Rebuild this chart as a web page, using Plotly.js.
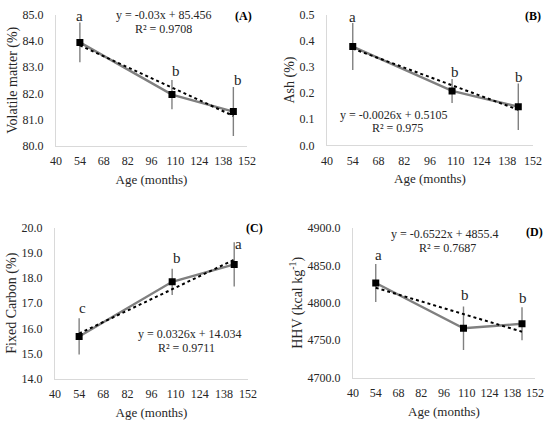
<!DOCTYPE html>
<html><head><meta charset="utf-8">
<script src="https://cdn.plot.ly/plotly-3.0.1.min.js"></script>
<style>html,body{margin:0;padding:0;background:#fff}</style>
</head><body>
<div id="chart" style="width:550px;height:424px"></div>
<script>
// Data
const ages = [54, 108, 144];
const xTicks = [40, 54, 68, 82, 96, 110, 124, 138, 152];

const volatile = [83.95, 81.95, 81.3];
const volatileErr = [0.76, 0.56, 0.94];
const ash = [0.378, 0.208, 0.148];
const ashErr = [0.09, 0.046, 0.089];
const fixedCarbon = [15.68, 17.85, 18.54];
const fixedCarbonErr = [0.72, 0.52, 0.88];
const hhv = [4826.5, 4766, 4772];
const hhvErr = [25.5, 29, 22];

const slopes = [-0.03, -0.0026, 0.0326, -0.6522];
const intercepts = [85.456, 0.5105, 14.034, 4855.4];
const eqTexts = ["y = -0.03x + 85.456", "y = -0.0026x + 0.5105", "y = 0.0326x + 14.034", "y = -0.6522x + 4855.4"];
const r2Texts = ["R² = 0.9708", "R² = 0.975", "R² = 0.9711", "R² = 0.7687"];
const panelLabels = ["(A)", "(B)", "(C)", "(D)"];
const yTitles = ["Volatile matter (%)", "Ash (%)", "Fixed Carbon (%)", "HHV (kcal kg<sup>-1</sup>)"];
const letters = [["a", "b", "b"], ["a", "b", "b"], ["c", "b", "a"], ["a", "b", "b"]];
const letterX = [[54, 110.6, 146.5], [54, 109.7, 144.4], [55.8, 111, 146.7], [55.8, 109, 144.5]];
const letterY = [[84.97, 82.86, 82.52], [0.49, 0.282, 0.263], [16.82, 18.81, 19.36], [4863.5, 4811, 4806]];

const series = [volatile, ash, fixedCarbon, hhv];
const errs = [volatileErr, ashErr, fixedCarbonErr, hhvErr];
const yRanges = [[80, 85], [0, 0.5], [14, 20], [4700, 4900]];
const yDtick = [1, 0.1, 1, 50];

// Layout geometry (pixels)
const W = 550, H = 424;
const boxes = [
  {x0: 56, x1: 247, y0: 15, y1: 145.5},
  {x0: 327, x1: 533, y0: 14.7, y1: 145.3},
  {x0: 55, x1: 248, y0: 227.7, y1: 378.7},
  {x0: 353, x1: 535, y0: 228, y1: 377.7}
];
const eqPos = [
  {x: 164, y: 14.7, rx: 163, ry: 29},
  {x: 394, y: 115, rx: 397.5, ry: 128},
  {x: 189.5, y: 333.7, rx: 186.7, ry: 347.7},
  {x: 445, y: 233.7, rx: 447.5, ry: 248}
];
const panelPos = [{x: 243, y: 16}, {x: 533, y: 16}, {x: 254, y: 228}, {x: 534, y: 232}];

const font = "Liberation Serif, Times New Roman, serif";
const txtColor = "#262626";
const px = v => v / W, py = v => 1 - v / H;

const traces = [];
const layout = {
  width: W, height: H, margin: {l: 0, r: 0, t: 0, b: 0},
  paper_bgcolor: "#fff", plot_bgcolor: "#fff", showlegend: false,
  font: {family: font, color: txtColor, size: 12},
  annotations: []
};

for (let i = 0; i < 4; i++) {
  const s = i === 0 ? "" : String(i + 1);
  const xa = "x" + s, ya = "y" + s;
  // main data line
  traces.push({
    x: ages, y: series[i], xaxis: xa, yaxis: ya, type: "scatter", mode: "lines+markers",
    line: {color: "#808080", width: 2.4},
    marker: {symbol: "square", color: "#000", size: 7},
    error_y: {type: "data", array: errs[i], visible: true, color: "#808080", thickness: 1.4, width: 0},
    hoverinfo: "none"
  });
  // trend line from displayed regression
  const tx = [ages[0], ages[ages.length - 1]];
  traces.push({
    x: tx, y: tx.map(v => slopes[i] * v + intercepts[i]), xaxis: xa, yaxis: ya,
    type: "scatter", mode: "lines", line: {color: "#000", width: 2, dash: "dot"}, hoverinfo: "none"
  });
  const b = boxes[i];
  layout["xaxis" + s] = {
    domain: [px(b.x0), px(b.x1)], anchor: ya, range: [40, 152],
    tickvals: xTicks, ticktext: xTicks.map(String), ticks: "", showgrid: false, zeroline: false,
    showline: true, linecolor: "#d9d9d9", linewidth: 1,
    tickfont: {family: font, size: 12, color: txtColor}, ticklabelstandoff: 4,
    title: {text: "Age (months)", font: {family: font, size: 13, color: txtColor}, standoff: 7}
  };
  layout["yaxis" + s] = {
    domain: [py(b.y1), py(b.y0)], anchor: xa, range: yRanges[i],
    dtick: yDtick[i], tick0: yRanges[i][0], tickformat: ".1f", ticks: "", showgrid: false, zeroline: false,
    showline: true, linecolor: "#d9d9d9", linewidth: 1,
    tickfont: {family: font, size: 12, color: txtColor}, ticklabelstandoff: 9,
    title: {text: yTitles[i], font: {family: font, size: 14, color: txtColor}, standoff: 1}
  };
  const e = eqPos[i];
  layout.annotations.push({xref: "paper", yref: "paper", x: px(e.x), y: py(e.y), text: eqTexts[i],
    showarrow: false, xanchor: "center", yanchor: "middle", font: {family: font, size: 12, color: txtColor}});
  layout.annotations.push({xref: "paper", yref: "paper", x: px(e.rx), y: py(e.ry), text: r2Texts[i],
    showarrow: false, xanchor: "center", yanchor: "middle", font: {family: font, size: 12, color: txtColor}});
  const p = panelPos[i];
  layout.annotations.push({xref: "paper", yref: "paper", x: px(p.x), y: py(p.y), text: "<b>" + panelLabels[i] + "</b>",
    showarrow: false, xanchor: "center", yanchor: "middle", font: {family: font, size: 12, color: "#000"}});
  for (let k = 0; k < 3; k++) {
    layout.annotations.push({xref: xa, yref: ya, x: letterX[i][k], y: letterY[i][k], text: letters[i][k],
      showarrow: false, xanchor: "center", yanchor: "middle", font: {family: font, size: 15, color: txtColor}});
  }
}

Plotly.newPlot("chart", traces, layout, {staticPlot: true, displayModeBar: false});
</script>
</body></html>
